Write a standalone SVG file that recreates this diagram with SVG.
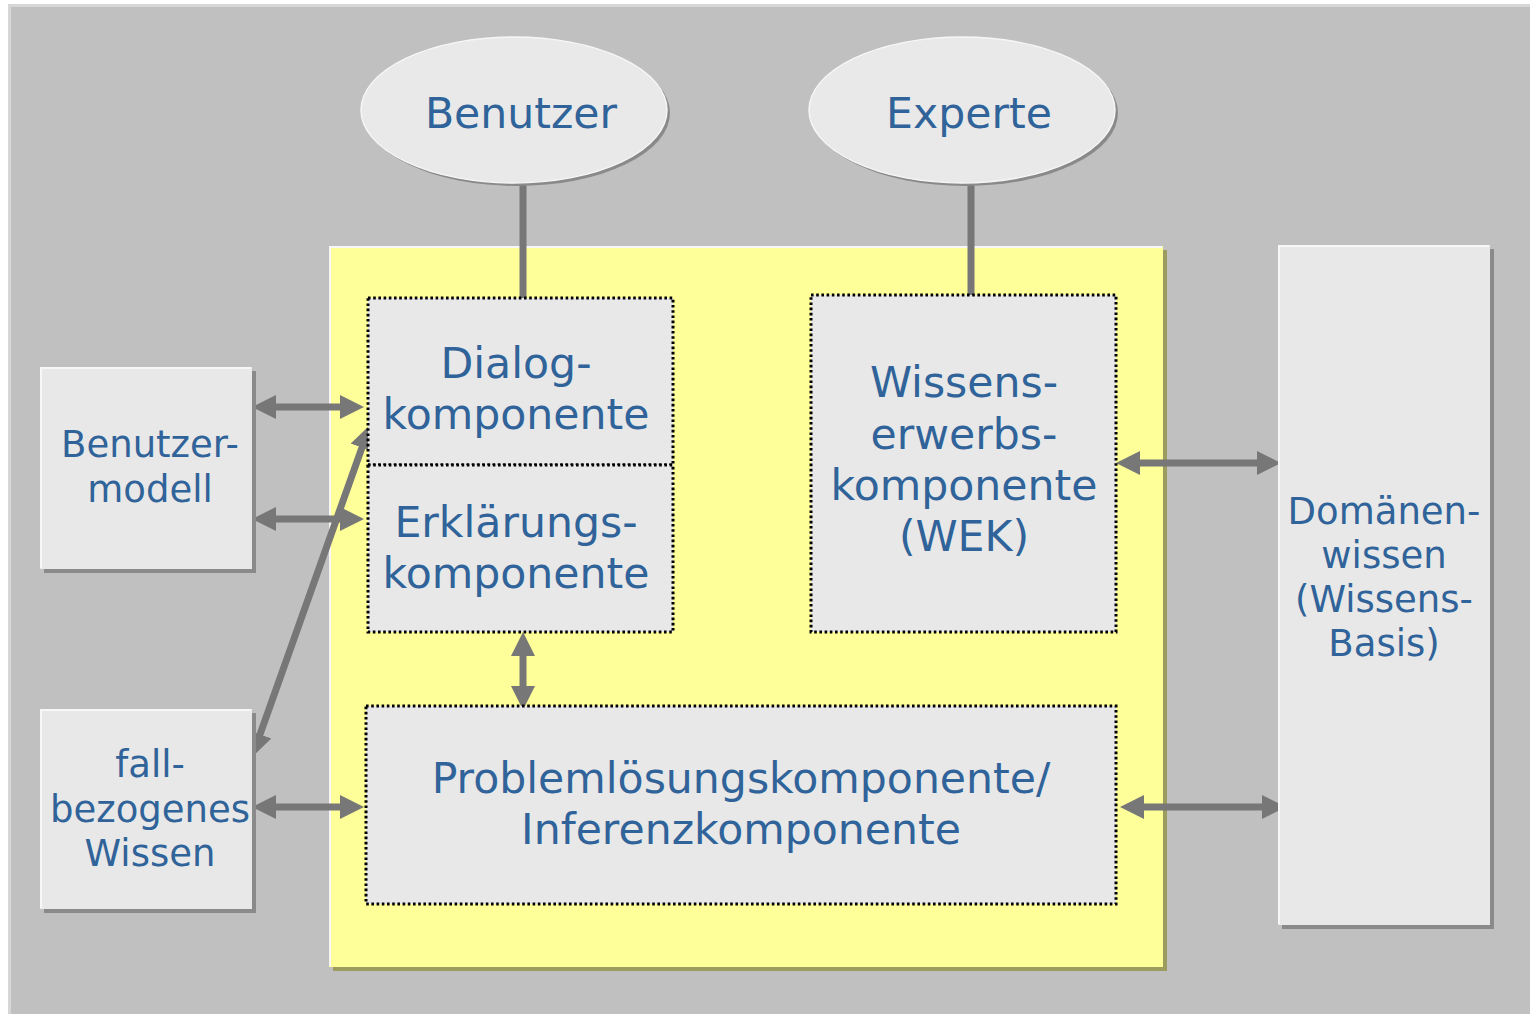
<svg xmlns="http://www.w3.org/2000/svg" width="1530" height="1014" viewBox="0 0 1530 1014">
  <style>
    .lbl { font-family: "DejaVu Sans", Verdana, sans-serif; fill: #2f6399; text-anchor: middle; }
    .big { font-size: 42.6px; }
    .mid { font-size: 37px; }
    .box { fill: #e8e8e8; }
    .shadow { fill: #8a8a8a; }
    .hl { fill: none; stroke: #f7f7f7; stroke-width: 2; }
    .dots { fill: #e8e8e8; stroke: #000; stroke-width: 3; stroke-dasharray: 2.6 2.6; }
    .link { stroke: #777; stroke-width: 7; fill: none; }
    .arr { stroke: #777; stroke-width: 7; fill: none; marker-start: url(#head); marker-end: url(#head); }
  </style>
  <defs>
    <marker id="head" markerUnits="userSpaceOnUse" markerWidth="24" markerHeight="24" refX="4" refY="12" orient="auto-start-reverse" viewBox="0 0 24 24">
      <path d="M0,0 L24,12 L0,24 z" fill="#777"/>
    </marker>
  </defs>

  <!-- background frame -->
  <rect x="0" y="0" width="1530" height="1014" fill="#ffffff"/>
  <rect x="8" y="4" width="1522" height="1010" fill="#d6d6d6"/>
  <rect x="11" y="7" width="1519" height="1007" fill="#c0c0c0"/>

  <!-- system boundary -->
  <g id="system">
    <rect x="333" y="250" width="834" height="721" fill="#9c9c5e"/>
    <rect x="329" y="246" width="834" height="721" fill="#ffff99"/>
    <polyline class="hl" points="330,966 330,247 1162,247" stroke="#ffffd0"/>
  </g>

  <!-- connectors -->
  <g id="connectors">
    <line class="link" x1="523" y1="182" x2="523" y2="298"/>
    <line class="link" x1="971" y1="182" x2="971" y2="295"/>
    <line class="arr" x1="272" y1="407" x2="344" y2="407"/>
    <line class="arr" x1="272" y1="519" x2="344" y2="519"/>
    <line class="arr" x1="272" y1="807" x2="344" y2="807"/>
    <line class="arr" x1="258.7" y1="738.2" x2="363.3" y2="443.8"/>
    <line class="arr" x1="523" y1="652" x2="523" y2="690"/>
    <line class="arr" x1="1136" y1="463" x2="1261" y2="463"/>
    <line class="arr" x1="1140" y1="807" x2="1266" y2="807"/>
  </g>

  <g id="benutzer">
    <ellipse cx="517" cy="113" rx="153" ry="73" fill="#8a8a8a"/>
    <ellipse cx="514" cy="110" rx="153" ry="73" fill="#e9e9e9" stroke="#f6f6f6" stroke-width="1.5"/>
    <text class="lbl big" x="521" y="128">Benutzer</text>
  </g>

  <g id="experte">
    <ellipse cx="965" cy="113" rx="153" ry="73" fill="#8a8a8a"/>
    <ellipse cx="962" cy="110" rx="153" ry="73" fill="#e9e9e9" stroke="#f6f6f6" stroke-width="1.5"/>
    <text class="lbl big" x="969" y="128">Experte</text>
  </g>

  <g id="dialog">
    <rect class="dots" x="368" y="298" width="305" height="167"/>
    <text class="lbl big" x="516" y="378">Dialog-</text>
    <text class="lbl big" x="516" y="429">komponente</text>
  </g>

  <g id="erklaerung">
    <rect class="dots" x="368" y="465" width="305" height="167"/>
    <text class="lbl big" x="516" y="537">Erklärungs-</text>
    <text class="lbl big" x="516" y="588">komponente</text>
  </g>

  <g id="wek">
    <rect class="dots" x="811" y="295" width="305" height="337"/>
    <text class="lbl big" x="964" y="397">Wissens-</text>
    <text class="lbl big" x="964" y="449">erwerbs-</text>
    <text class="lbl big" x="964" y="500">komponente</text>
    <text class="lbl big" x="964" y="551">(WEK)</text>
  </g>

  <g id="problemloesung">
    <rect class="dots" x="366" y="706" width="750" height="198"/>
    <text class="lbl big" x="741" y="793">Problemlösungskomponente/</text>
    <text class="lbl big" x="741" y="844">Inferenzkomponente</text>
  </g>

  <g id="benutzermodell">
    <rect class="shadow" x="44" y="371" width="212" height="202"/>
    <rect class="box" x="40" y="367" width="212" height="202"/>
    <polyline class="hl" points="41,568 41,368 251,368"/>
    <text class="lbl mid" x="150" y="457">Benutzer-</text>
    <text class="lbl mid" x="150" y="502">modell</text>
  </g>

  <g id="fallwissen">
    <rect class="shadow" x="44" y="713" width="212" height="200"/>
    <rect class="box" x="40" y="709" width="212" height="200"/>
    <polyline class="hl" points="41,908 41,710 251,710"/>
    <text class="lbl mid" x="150" y="777">fall-</text>
    <text class="lbl mid" x="150" y="822">bezogenes</text>
    <text class="lbl mid" x="150" y="866">Wissen</text>
  </g>

  <g id="domaenenwissen">
    <rect class="shadow" x="1282" y="249" width="212" height="680"/>
    <rect class="box" x="1278" y="245" width="212" height="680"/>
    <polyline class="hl" points="1279,924 1279,246 1489,246"/>
    <text class="lbl mid" x="1384" y="524">Domänen-</text>
    <text class="lbl mid" x="1384" y="568">wissen</text>
    <text class="lbl mid" x="1384" y="612">(Wissens-</text>
    <text class="lbl mid" x="1384" y="656">Basis)</text>
  </g>
</svg>
